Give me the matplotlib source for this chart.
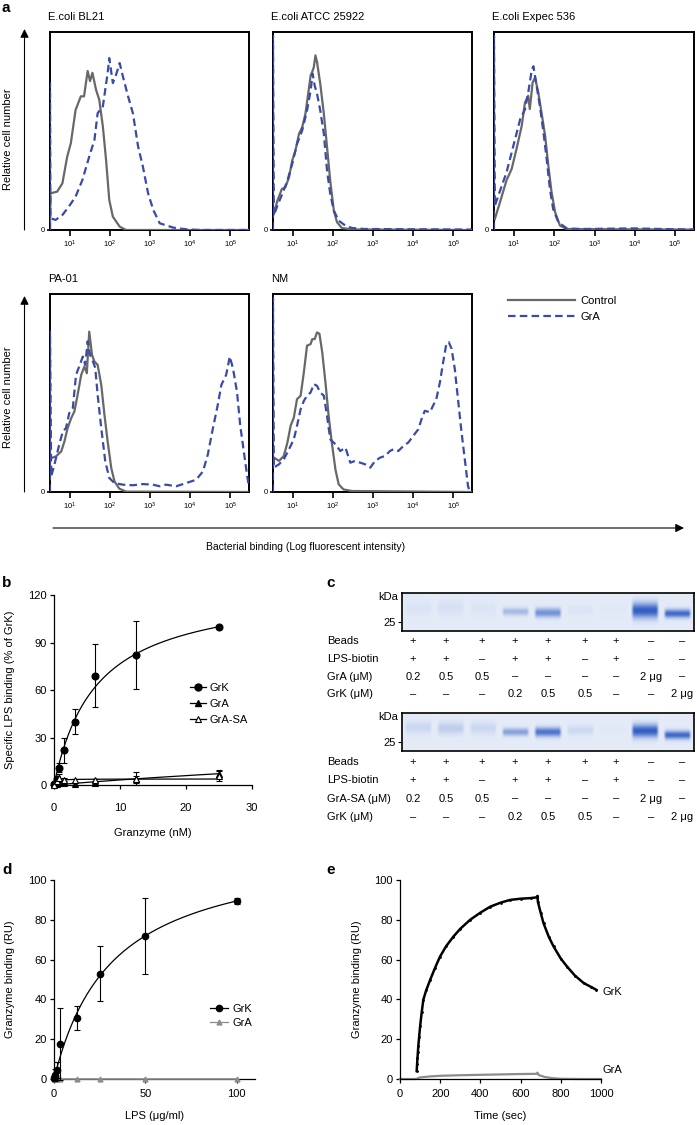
import numpy as np
import matplotlib
matplotlib.use('Agg')
import matplotlib.pyplot as plt
from matplotlib.patches import FancyArrowPatch
from matplotlib.ticker import LogLocator, NullFormatter
from matplotlib.lines import Line2D

plt.rcParams['font.family'] = ['Liberation Sans', 'DejaVu Sans']
plt.rcParams['mathtext.fontset'] = 'custom'
plt.rcParams['mathtext.rm'] = 'Liberation Sans'
plt.rcParams['mathtext.it'] = 'Liberation Sans:italic'
plt.rcParams['mathtext.bf'] = 'Liberation Sans:bold'

# ---------------- DATA ----------------
# Panel a: flow histograms (x = log10 fluorescence, y = % of axis height)
bl21_ctrl_log = [0.50, 0.51, 0.68, 0.81, 0.93, 1.02, 1.14, 1.27, 1.35, 1.44, 1.50, 1.56, 1.65, 1.73, 1.82, 1.90, 1.98, 2.07, 2.24, 2.40, 5.47]
bl21_ctrl_y = [0, 18.5, 19.4, 23.6, 37.1, 43.8, 60.7, 67.5, 67.5, 80.3, 75.2, 79.4, 70.8, 65.8, 52.3, 35.4, 15.2, 6.7, 1.7, 0, 0]
bl21_gra_log = [0.50, 0.50, 0.51, 0.64, 0.81, 0.97, 1.14, 1.31, 1.48, 1.61, 1.69, 1.82, 1.94, 1.98, 2.07, 2.15, 2.24, 2.32, 2.45, 2.57, 2.70, 2.82, 2.95, 3.08, 3.24, 3.58, 3.92, 4.25, 5.47]
bl21_gra_y = [0, 74, 5.9, 5.1, 7.6, 11.8, 16.9, 25.3, 37.1, 45.5, 59.0, 62.4, 79.3, 86.8, 74.2, 78.4, 84.3, 77.6, 67.5, 59.0, 42.2, 32.0, 18.5, 10.1, 3.4, 1.2, 0.3, 0, 0]

atcc_ctrl_log = [0.52, 0.61, 0.72, 0.81, 0.90, 0.98, 1.06, 1.15, 1.23, 1.31, 1.39, 1.44, 1.48, 1.52, 1.56, 1.60, 1.68, 1.77, 1.85, 1.93, 2.02, 2.10, 2.22, 2.47, 5.45]
atcc_ctrl_y = [8.1, 14.8, 20.7, 21.6, 26.6, 35.1, 40.1, 48.6, 52.0, 58.7, 70.5, 78.1, 79.9, 82.3, 88.2, 84.8, 73.9, 58.7, 41.8, 24.8, 9.6, 3.9, 1.0, 0.3, 0]
atcc_gra_log = [0.50, 0.50, 0.52, 0.61, 0.73, 0.86, 0.98, 1.10, 1.23, 1.35, 1.44, 1.49, 1.54, 1.60, 1.68, 1.77, 1.85, 1.93, 2.02, 2.14, 2.31, 2.47, 2.80, 5.45]
atcc_gra_y = [0, 98, 7.3, 12.3, 18.2, 25.0, 33.4, 43.5, 50.3, 60.4, 70.5, 78.9, 73.0, 68.8, 60.4, 48.6, 30.0, 18.2, 9.8, 4.7, 2.2, 1.0, 0.5, 0.2]

expec_ctrl_log = [0.52, 0.65, 0.81, 0.94, 1.06, 1.19, 1.27, 1.35, 1.39, 1.46, 1.52, 1.60, 1.68, 1.77, 1.85, 1.93, 2.02, 2.14, 2.31, 5.45]
expec_ctrl_y = [5.5, 14.1, 25.0, 30.9, 41.0, 52.7, 64.4, 67.8, 61.1, 74.5, 77.0, 69.5, 59.4, 47.7, 32.6, 19.1, 8.9, 2.2, 0.5, 0.2]
expec_gra_log = [0.50, 0.50, 0.52, 0.65, 0.81, 0.98, 1.15, 1.27, 1.35, 1.44, 1.48, 1.56, 1.64, 1.73, 1.81, 1.89, 1.97, 2.10, 2.31, 2.64, 3.96, 5.45]
expec_gra_y = [0, 98, 12.2, 19.8, 29.0, 42.4, 55.9, 60.9, 69.3, 81.0, 82.7, 72.7, 62.6, 49.2, 35.7, 20.6, 10.6, 3.9, 0.8, 0.5, 0.8, 0.2]

pa01_ctrl_log = [0.53, 0.65, 0.78, 0.86, 0.94, 1.03, 1.11, 1.19, 1.28, 1.36, 1.42, 1.48, 1.55, 1.61, 1.69, 1.78, 1.86, 1.94, 2.03, 2.11, 2.23, 2.40, 5.44]
pa01_ctrl_y = [17.1, 18.0, 20.5, 25.5, 32.3, 37.3, 40.7, 49.1, 59.2, 63.4, 60.0, 81.0, 69.2, 65.9, 64.2, 54.1, 39.0, 25.5, 12.1, 5.4, 1.7, 0.2, 0]
pa01_gra_log = [0.50, 0.50, 0.53, 0.61, 0.73, 0.82, 0.90, 0.98, 1.07, 1.15, 1.23, 1.32, 1.38, 1.44, 1.50, 1.57, 1.63, 1.69, 1.78, 1.88, 1.98, 2.11, 2.32, 2.57, 2.82, 3.07, 3.24, 3.40, 3.65, 3.90, 4.15, 4.32, 4.44, 4.57, 4.69, 4.78, 4.90, 4.99, 5.07, 5.17, 5.25, 5.34, 5.42, 5.46]
pa01_gra_y = [0, 81, 7.9, 13.8, 23.9, 30.6, 32.3, 39.8, 42.4, 59.2, 63.4, 68.4, 64.2, 76.1, 69.4, 66.1, 62.7, 49.1, 32.3, 15.5, 7.1, 4.5, 3.7, 3.4, 4.0, 3.7, 2.9, 3.7, 2.9, 4.5, 6.2, 10.4, 18.8, 32.3, 44.0, 54.1, 59.2, 68.4, 62.4, 50.6, 33.8, 20.5, 8.7, 3.7]

nm_ctrl_log = [0.52, 0.65, 0.77, 0.86, 0.94, 1.02, 1.10, 1.19, 1.27, 1.35, 1.44, 1.48, 1.54, 1.60, 1.66, 1.73, 1.81, 1.89, 1.97, 2.06, 2.14, 2.26, 2.47, 5.45]
nm_ctrl_y = [17.4, 15.7, 18.2, 25.0, 33.4, 37.6, 46.9, 48.6, 60.4, 73.9, 74.7, 77.2, 77.2, 80.6, 79.9, 70.5, 55.3, 38.4, 24.8, 11.3, 3.9, 1.3, 0.5, 0]
nm_gra_log = [0.50, 0.50, 0.52, 0.65, 0.77, 0.90, 1.02, 1.10, 1.19, 1.27, 1.35, 1.44, 1.52, 1.60, 1.68, 1.77, 1.85, 1.93, 2.06, 2.18, 2.31, 2.43, 2.55, 2.68, 2.80, 2.93, 3.05, 3.18, 3.30, 3.42, 3.51, 3.63, 3.76, 3.88, 4.00, 4.13, 4.21, 4.29, 4.42, 4.50, 4.58, 4.67, 4.75, 4.83, 4.89, 4.96, 5.04, 5.12, 5.20, 5.29, 5.37, 5.41]
nm_gra_y = [0, 98, 12.3, 14.0, 16.5, 21.6, 26.6, 33.4, 41.8, 46.0, 48.6, 50.3, 54.5, 53.6, 50.3, 48.6, 38.4, 26.6, 24.1, 20.7, 22.4, 14.8, 15.7, 14.8, 14.0, 12.3, 15.7, 17.4, 18.2, 20.7, 21.6, 20.7, 23.3, 25.0, 28.3, 31.7, 36.8, 41.0, 40.3, 43.7, 47.0, 55.5, 65.6, 74.9, 75.7, 72.3, 62.2, 47.0, 31.7, 16.5, 3.0, 0.5]

flow_ticks = [1e1, 1e2, 1e3, 1e4, 1e5]
flow_ticklabels = [r'$10^{1}$', r'$10^{2}$', r'$10^{3}$', r'$10^{4}$', r'$10^{5}$']

# Panel b
b_x = [0, 0.39, 0.78, 1.56, 3.125, 6.25, 12.5, 25]
b_grk = [0.5, 4, 11, 22, 40, 69, 82, 100]
b_grk_err = [0.5, 2, 3, 8, 8, 20, 21.5, 0]
b_gra = [0.5, 0.5, 1.0, 1.5, 0.5, 1.5, 3.5, 7.0]
b_gra_err = [0.3, 0.5, 1.0, 1.0, 0.8, 1.0, 2.0, 2.0]
b_grasa = [0.3, 2.5, 4.5, 3.0, 3.0, 3.0, 4.0, 6.0]
b_grasa_err = [0.5, 1.5, 2.5, 1.5, 1.0, 1.0, 4.0, 3.5]
b_fit = {'GrK': (125.6, 6.41), 'GrA': (40.0, 115.0), 'GrA-SA': (3.8, 0.25)}  # (Bmax, Kd)

# Panel c: gel band intensities per lane (9 lanes)
gel1_int = [0.05, 0.07, 0.04, 0.33, 0.60, 0.04, 0.02, 0.95, 0.88]
gel1_pos = [0.60, 0.62, 0.60, 0.51, 0.48, 0.55, 0.55, 0.54, 0.46]
gel1_wid = [0.20, 0.20, 0.20, 0.10, 0.12, 0.15, 0.15, 0.20, 0.11]
gel2_int = [0.13, 0.20, 0.13, 0.50, 0.80, 0.12, 0.02, 0.95, 0.88]
gel2_pos = [0.62, 0.60, 0.60, 0.50, 0.50, 0.55, 0.55, 0.53, 0.42]
gel2_wid = [0.16, 0.16, 0.16, 0.10, 0.12, 0.13, 0.13, 0.17, 0.11]
c_rows1 = ['Beads', 'LPS-biotin', 'GrA (μM)', 'GrK (μM)']
c_rows2 = ['Beads', 'LPS-biotin', 'GrA-SA (μM)', 'GrK (μM)']
c_beads = ['+', '+', '+', '+', '+', '+', '+', '–', '–']
c_lps = ['+', '+', '–', '+', '+', '–', '+', '–', '–']
c_gra = ['0.2', '0.5', '0.5', '–', '–', '–', '–', '2 μg', '–']
c_grk = ['–', '–', '–', '0.2', '0.5', '0.5', '–', '–', '2 μg']

# Panel d
d_x = [0, 0.39, 0.78, 1.56, 3.125, 12.5, 25, 50, 100]
d_grk = [0.5, 1.0, 2.0, 4.7, 17.5, 30.8, 53, 72, 89.5]
d_grk_err = [1, 1.5, 3, 4, 18, 6, 14, 19, 1.5]
d_gra = [0, 0, 0, 0, 0, 0, 0, 0, 0]
d_fit = (118.2, 32.1)  # (Bmax, Kd)

# Panel e: sensorgram
e_grk_t = [83, 85, 87, 89, 91, 95, 100, 108, 116, 130, 150, 175, 199, 230, 266, 300, 349, 400, 449, 500, 548, 600, 650, 681, 684, 686, 700, 714, 740, 764, 800, 831, 870, 914, 950, 977]
e_grk_y = [4.0, 7.5, 10.5, 13.5, 16.4, 21.0, 26.4, 33.5, 39.8, 44.5, 49.8, 56.0, 61.5, 66.8, 71.6, 75.5, 80.0, 83.6, 86.6, 88.6, 90.0, 90.6, 90.9, 91.3, 92.0, 89.0, 83.5, 78.3, 71.5, 66.6, 60.5, 56.5, 52.0, 48.2, 46.3, 44.8]
e_gra_t = [0, 80, 100, 150, 200, 300, 400, 500, 600, 680, 684, 690, 720, 760, 800, 900, 1000]
e_gra_y = [0, 0, 0.8, 1.3, 1.6, 1.9, 2.1, 2.3, 2.5, 2.6, 3.2, 2.0, 1.0, 0.4, 0.1, 0, 0]

# ---------------- FIGURE ----------------
W, H = 697, 1125
fig = plt.figure(figsize=(W / 100, H / 100), dpi=100)


def add_ax(l, t, r, b):
    return fig.add_axes([l / W, 1 - b / H, (r - l) / W, (b - t) / H])


def ftext(x, y, s, **kw):
    fig.text(x / W, 1 - y / H, s, **kw)


def farrow(x0, y0, x1, y1):
    fig.add_artist(FancyArrowPatch((x0 / W, 1 - y0 / H), (x1 / W, 1 - y1 / H),
                                   transform=fig.transFigure, arrowstyle='-|>,head_length=5,head_width=2.5',
                                   lw=0.8, color='black', mutation_scale=1, shrinkA=0, shrinkB=0))


CTRL_C = '#686868'
GRA_C = '#3a4aa8'


def flow_panel(rect, title, clog, cy, glog, gy):
    ax = add_ax(*rect)
    ax.plot(10 ** np.array(clog), cy, color=CTRL_C, lw=1.6, zorder=3)
    ax.plot(10 ** np.array(glog), gy, color=GRA_C, lw=1.6, ls=(0, (3.4, 1.9)), zorder=4)
    ax.set_xscale('log')
    ax.set_xlim(10 ** 0.5, 10 ** 5.47)
    ax.set_ylim(0, 100)
    for s in ax.spines.values():
        s.set_linewidth(1.4)
    ax.set_xticks(flow_ticks)
    ax.set_xticklabels(flow_ticklabels, fontsize=5.5)
    ax.xaxis.set_minor_locator(LogLocator(base=10, subs=np.arange(2, 10)))
    ax.xaxis.set_minor_formatter(NullFormatter())
    ax.tick_params(axis='x', which='major', length=4, width=1.2, pad=2)
    ax.tick_params(axis='x', which='minor', length=2.5, width=1.0)
    ax.set_yticks([0])
    ax.set_yticklabels(['0'], fontsize=5.5)
    ax.tick_params(axis='y', length=2, width=1.2, pad=2)
    ftext(rect[0] - 2, rect[1] - 15, title, fontsize=8, va='center', ha='left')
    return ax


flow_panel((50, 32, 249, 230), 'E.coli BL21', bl21_ctrl_log, bl21_ctrl_y, bl21_gra_log, bl21_gra_y)
flow_panel((273, 32, 472, 230), 'E.coli ATCC 25922', atcc_ctrl_log, atcc_ctrl_y, atcc_gra_log, atcc_gra_y)
flow_panel((494, 32, 694, 230), 'E.coli Expec 536', expec_ctrl_log, expec_ctrl_y, expec_gra_log, expec_gra_y)
flow_panel((50, 294, 249, 492), 'PA-01', pa01_ctrl_log, pa01_ctrl_y, pa01_gra_log, pa01_gra_y)
flow_panel((273, 294, 472, 492), 'NM', nm_ctrl_log, nm_ctrl_y, nm_gra_log, nm_gra_y)

# legend for panel a
handles = [Line2D([], [], color=CTRL_C, lw=1.6), Line2D([], [], color=GRA_C, lw=1.6, ls=(0, (3.4, 1.9)))]
fig.legend(handles, ['Control', 'GrA'], loc='upper left', bbox_to_anchor=(508 / W, 1 - 296 / H),
           frameon=False, fontsize=8, handlelength=6.0, handletextpad=0.5, labelspacing=0.5,
           borderpad=0, borderaxespad=0)

farrow(24.5, 230, 24.5, 29)
farrow(24.5, 492, 24.5, 296)
farrow(53, 528, 684, 528)
ftext(8, 139, 'Relative cell number', rotation=90, fontsize=8, ha='center', va='center')
ftext(8, 397, 'Relative cell number', rotation=90, fontsize=8, ha='center', va='center')
ftext(306, 547, 'Bacterial binding (Log fluorescent intensity)', fontsize=7.5, ha='center', va='center')


def prism_axes(ax):
    for s in ['top', 'right']:
        ax.spines[s].set_visible(False)
    for s in ['left', 'bottom']:
        ax.spines[s].set_linewidth(0.9)
    ax.tick_params(labelsize=8, length=3, width=0.9, pad=2)


# ---------- panel b ----------
axb = add_ax(54, 595, 252, 785)
for name, ys, es, mk, mfc in [('GrK', b_grk, b_grk_err, 'o', 'black'),
                               ('GrA', b_gra, b_gra_err, '^', 'black'),
                               ('GrA-SA', b_grasa, b_grasa_err, '^', 'white')]:
    bm, kd = b_fit[name]
    xs = np.linspace(0, max(b_x), 300)
    axb.plot(xs, bm * xs / (kd + xs), color='black', lw=0.9, zorder=2)
    axb.errorbar(b_x, ys, yerr=es, fmt=mk, color='black', mfc=mfc, mec='black', ms=5 if mk == 'o' else 4.5,
                 mew=0.8, capsize=2.5, elinewidth=0.8, capthick=0.8, zorder=4)
for ch in axb.get_children():
    try:
        ch.set_clip_on(False)
    except Exception:
        pass
axb.set_xlim(0, 30)
axb.set_ylim(0, 120)
axb.set_xticks([0, 10, 20, 30])
axb.set_yticks([0, 30, 60, 90, 120])
prism_axes(axb)
axb.tick_params(axis='x', pad=10)
axb.set_xlabel('Granzyme (nM)', fontsize=8, labelpad=11)
axb.set_ylabel('Specific LPS binding (% of GrK)', fontsize=8, labelpad=10)
hb = [Line2D([], [], color='black', lw=0.9, marker='o', ms=5),
      Line2D([], [], color='black', lw=0.9, marker='^', ms=4.5),
      Line2D([], [], color='black', lw=0.9, marker='^', ms=4.5, mfc='white', mew=0.8)]
fig.legend(hb, ['GrK', 'GrA', 'GrA-SA'], loc='upper left', bbox_to_anchor=(190 / W, 1 - 683 / H),
           frameon=False, fontsize=8, handlelength=1.4, handletextpad=0.4, labelspacing=0.55,
           borderpad=0, borderaxespad=0)


# ---------- panel c ----------
def gel_panel(rect, ints, pos, wid):
    ax = add_ax(*rect)
    ny, nx = 80, 600
    yy = np.linspace(0, 1, ny)[:, None]
    xx = np.linspace(0.5, 9.5, nx)[None, :]
    alpha = np.zeros((ny, nx))
    for i, (I, yc, s) in enumerate(zip(ints, pos, wid)):
        lane = i + 1
        hprof = np.clip((0.44 - np.abs(xx - lane)) / 0.10, 0, 1)
        alpha = np.maximum(alpha, I * np.exp(-((yy - yc) / s) ** 2) * hprof)
    bg = np.array([0.895, 0.922, 0.972])
    band = np.array([0.16, 0.34, 0.76])
    img = bg * (1 - alpha[..., None]) + band * alpha[..., None]
    ax.imshow(img, extent=(0.5, 9.5, 0, 1), origin='lower', aspect='auto', interpolation='bilinear')
    ax.set_xlim(0.5, 9.5)
    ax.set_ylim(0, 1)
    ax.set_xticks([])
    ax.set_yticks([0.24])
    ax.set_yticklabels(['25'], fontsize=8)
    ax.tick_params(axis='y', length=3, width=0.8, pad=1.5)
    for s in ax.spines.values():
        s.set_linewidth(1.2)
    ax.text(-0.012, 0.9, 'kDa', transform=ax.transAxes, ha='right', va='center', fontsize=8)
    return ax


TABLE_COL_X = [413, 446, 482, 515, 548, 585, 616, 651, 682]


def gel_table(top_y, rows, cols, dy):
    for r, (lab, vals) in enumerate(zip(rows, cols)):
        y = top_y + r * dy
        ftext(327, y, lab, fontsize=8, ha='left', va='center')
        for x, v in zip(TABLE_COL_X, vals):
            ftext(x, y, v, fontsize=8, ha='center', va='center')


gel_panel((402, 593, 694, 631), gel1_int, gel1_pos, gel1_wid)
gel_table(641, c_rows1, [c_beads, c_lps, c_gra, c_grk], 17.8)
gel_panel((402, 713, 694, 751), gel2_int, gel2_pos, gel2_wid)
gel_table(762, c_rows2, [c_beads, c_lps, c_gra, c_grk], 18.3)

# ---------- panel d ----------
axd = add_ax(54, 880, 255, 1079)
xs = np.linspace(0, max(d_x), 300)
axd.plot(xs, d_fit[0] * xs / (d_fit[1] + xs), color='black', lw=0.9, zorder=2)
axd.errorbar(d_x, d_grk, yerr=d_grk_err, fmt='o', color='black', ms=4.5, capsize=2.2,
             elinewidth=0.8, capthick=0.8, zorder=4)
axd.plot(d_x, d_gra, color='#8c8c8c', lw=1.2, marker='^', ms=3.5, zorder=3)
for ch in axd.get_children():
    try:
        ch.set_clip_on(False)
    except Exception:
        pass
axd.set_xlim(0, 110)
axd.set_ylim(0, 100)
axd.set_xticks([0, 50, 100])
axd.set_yticks([0, 20, 40, 60, 80, 100])
prism_axes(axd)
axd.tick_params(axis='x', pad=4)
axd.set_xlabel('LPS (μg/ml)', fontsize=8, labelpad=9)
axd.set_ylabel('Granzyme binding (RU)', fontsize=8, labelpad=10)
hd = [Line2D([], [], color='black', lw=0.9, marker='o', ms=4.5),
      Line2D([], [], color='#8c8c8c', lw=0.9, marker='^', ms=3.5)]
fig.legend(hd, ['GrK', 'GrA'], loc='upper left', bbox_to_anchor=(210 / W, 1 - 1004 / H),
           frameon=False, fontsize=8, handlelength=1.6, handletextpad=0.4, labelspacing=0.35,
           borderpad=0, borderaxespad=0)

# ---------- panel e ----------
axe = add_ax(400, 880, 601, 1079)
axe.plot(e_gra_t, e_gra_y, color='#8c8c8c', lw=1.6, zorder=2, clip_on=False)
axe.plot(e_grk_t, e_grk_y, color='black', lw=1.8, marker='.', ms=2, zorder=3, clip_on=False)
axe.set_xlim(0, 1000)
axe.set_ylim(0, 100)
axe.set_xticks([0, 200, 400, 600, 800, 1000])
axe.set_yticks([0, 20, 40, 60, 80, 100])
prism_axes(axe)
axe.tick_params(axis='x', pad=4)
axe.set_xlabel('Time (sec)', fontsize=8, labelpad=9)
axe.set_ylabel('Granzyme binding (RU)', fontsize=8, labelpad=9)
axe.text(1008, 43.7, 'GrK', fontsize=8, ha='left', va='center')
axe.text(1008, 4.5, 'GrA', fontsize=8, ha='left', va='center')

# panel letters
for (x, y, s) in [(2, 8, 'a'), (2, 583, 'b'), (326, 583, 'c'), (2, 870, 'd'), (326, 870, 'e')]:
    ftext(x, y, s, fontsize=11, fontweight='bold', ha='left', va='center')

fig.savefig('out.png', dpi=100)
